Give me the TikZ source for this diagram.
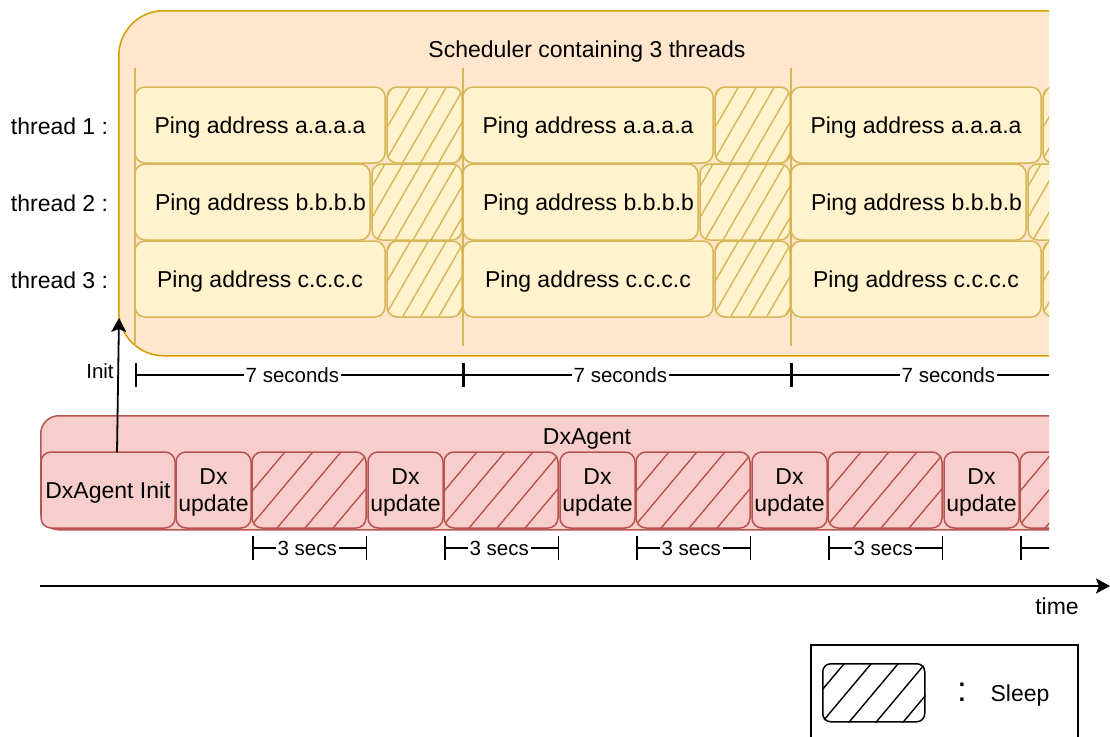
\documentclass[tikz,border=0pt]{standalone}
\usepackage{fontspec}
\setmainfont{Liberation Sans}
\usetikzlibrary{arrows.meta}

\definecolor{schedfill}{HTML}{FFE6CC}
\definecolor{schedline}{HTML}{D79B00}
\definecolor{taskfill}{HTML}{FFF2CC}
\definecolor{taskline}{HTML}{D6B656}
\definecolor{agentfill}{HTML}{F8CECC}
\definecolor{agentline}{HTML}{B85450}

% diagonal hatching inside a rounded node:
% #1 node, #2 colour, #3 angle, #4 horizontal step, #5 corner radius
\newcommand\hatchfill[5]{%
  \begin{scope}
    \clip[rounded corners=#5] (#1.south west) rectangle (#1.north east);
    \foreach \hk in {-12,...,12}
      \draw[#2, line width=1.4pt, shift={(#1.center)}]
        ({\hk*#4-120*cos(#3)},{120*sin(#3)}) -- ++({240*cos(#3)},{-240*sin(#3)});
  \end{scope}}

\tikzset{
  txt/.style={font=\fontsize{23}{27}\selectfont, text=black},
  small/.style={font=\fontsize{20.5}{24}\selectfont, text=black},
  box/.style={txt, anchor=north west, inner sep=0pt, outer sep=0pt,
    line width=1.5pt, minimum height=76pt, align=center, text depth=0pt},
  task/.style={box, draw=taskline, fill=taskfill, rounded corners=10pt},
  agent/.style={box, draw=agentline, fill=agentfill, rounded corners=10pt},
  dim/.style={draw=black, line width=1.5pt, {Bar[width=24pt]}-{Bar[width=24pt]}},
  dimlabel/.style={small, fill=white, inner sep=2pt, pos=0.48},
  arr/.style={draw=black, line width=1.8pt, -{Stealth[length=14pt,width=15pt,inset=3pt]}},
}

\begin{document}
\begin{tikzpicture}[x=1pt,y=-1pt]
\clip (0,0) rectangle (1110,736);

\begin{scope}
\clip (0,0) rectangle (1049,736);

% scheduler container
\node[draw=schedline, fill=schedfill, line width=1.5pt, rounded corners=45pt,
  anchor=north west, minimum width=1100pt, minimum height=345pt, inner sep=0pt]
  (sched) at (118,10) {};
\node[txt] (schedtitle) at (587,52) {Scheduler containing 3 threads};

% period separators
\foreach \p [count=\i] in {0,328,656}
  \draw[taskline, line width=1.5pt] (135+\p,68) coordinate (sepa\i) -- (135+\p,346) coordinate (sepb\i);

% thread rows
\foreach \p [count=\i] in {0,328,656} {
  \node[task, minimum width=250pt] (pa\i) at (135+\p,87) {Ping address a.a.a.a};
  \node[task, minimum width=75pt] (sa\i) at (387+\p,87) {};
  \hatchfill{sa\i}{taskline}{60}{18}{10pt}
  \node[task, minimum width=235pt] (pb\i) at (135+\p,164) {Ping address b.b.b.b\hspace*{-16pt}};
  \node[task, minimum width=90pt] (sb\i) at (372+\p,164) {};
  \hatchfill{sb\i}{taskline}{60}{18}{10pt}
  \node[task, minimum width=250pt] (pc\i) at (135+\p,241) {Ping address c.c.c.c};
  \node[task, minimum width=75pt] (sc\i) at (387+\p,241) {};
  \hatchfill{sc\i}{taskline}{60}{18}{10pt}
}

% 7 second periods
\foreach \p [count=\i] in {0,328,656} {
  \coordinate (ta\i) at (135+\p,375);
  \coordinate (tb\i) at (463+\p,375);
  \draw[dim] (ta\i) -- node[dimlabel] {7 seconds} (tb\i);
}

% DxAgent container
\node[draw=agentline, fill=agentfill, line width=1.5pt, rounded corners=18pt,
  anchor=north west, minimum width=1100pt, minimum height=114pt, inner sep=0pt]
  (agent) at (40,415) {};
\node[txt] (agenttitle) at (587,439) {DxAgent};

\node[agent, minimum width=134pt] (dxinit) at (41,452) {DxAgent Init};
\foreach \k in {0,...,4} {
  \node[agent, minimum width=75pt, text depth=-4pt] (up\k) at (176+192*\k,452) {Dx\\update};
  \node[agent, minimum width=114pt] (zz\k) at (252+192*\k,452) {};
  \hatchfill{zz\k}{agentline}{50}{28}{10pt}
  \coordinate (da\k) at (252+192*\k,548);
}
\foreach \k in {0,...,3} {
  \coordinate (db\k) at (367+192*\k,548);
  \draw[dim] (da\k) -- node[dimlabel] {3 secs} (db\k);
}
\coordinate (db4) at (1135,548);
\draw[dim] (da4) -- (db4);
\end{scope}

% thread labels
\node[txt] (th1) at (59.5,126) {thread 1 :};
\node[txt] (th2) at (59.5,203) {thread 2 :};
\node[txt] (th3) at (59.5,280) {thread 3 :};

% init arrow
\coordinate (initend) at (119,318);
\draw[arr] ([xshift=9pt]dxinit.north) -- (initend);
\node[small] (initlabel) at (100,371) {Init};

% time axis
\coordinate (t0) at (40,586);
\coordinate (t1) at (1110,586);
\draw[arr] (t0) -- (t1);
\node[txt] (timelabel) at (1057,606) {time};

% legend
\node[draw=black, line width=1.5pt, anchor=north west, minimum width=267pt,
  minimum height=120pt, inner sep=0pt] (legend) at (810,644) {};
\node[draw=black, fill=white, line width=1.5pt, rounded corners=8pt, anchor=north west,
  minimum width=102pt, minimum height=58pt, inner sep=0pt] (legsleep) at (822,663) {};
\hatchfill{legsleep}{black}{50}{27}{8pt}
\node[font=\fontsize{35}{40}\selectfont, text=black] (legcolon) at (962,692.5) {:};
\node[txt] (legtext) at (1020,696) {Sleep};
\end{tikzpicture}
\end{document}
